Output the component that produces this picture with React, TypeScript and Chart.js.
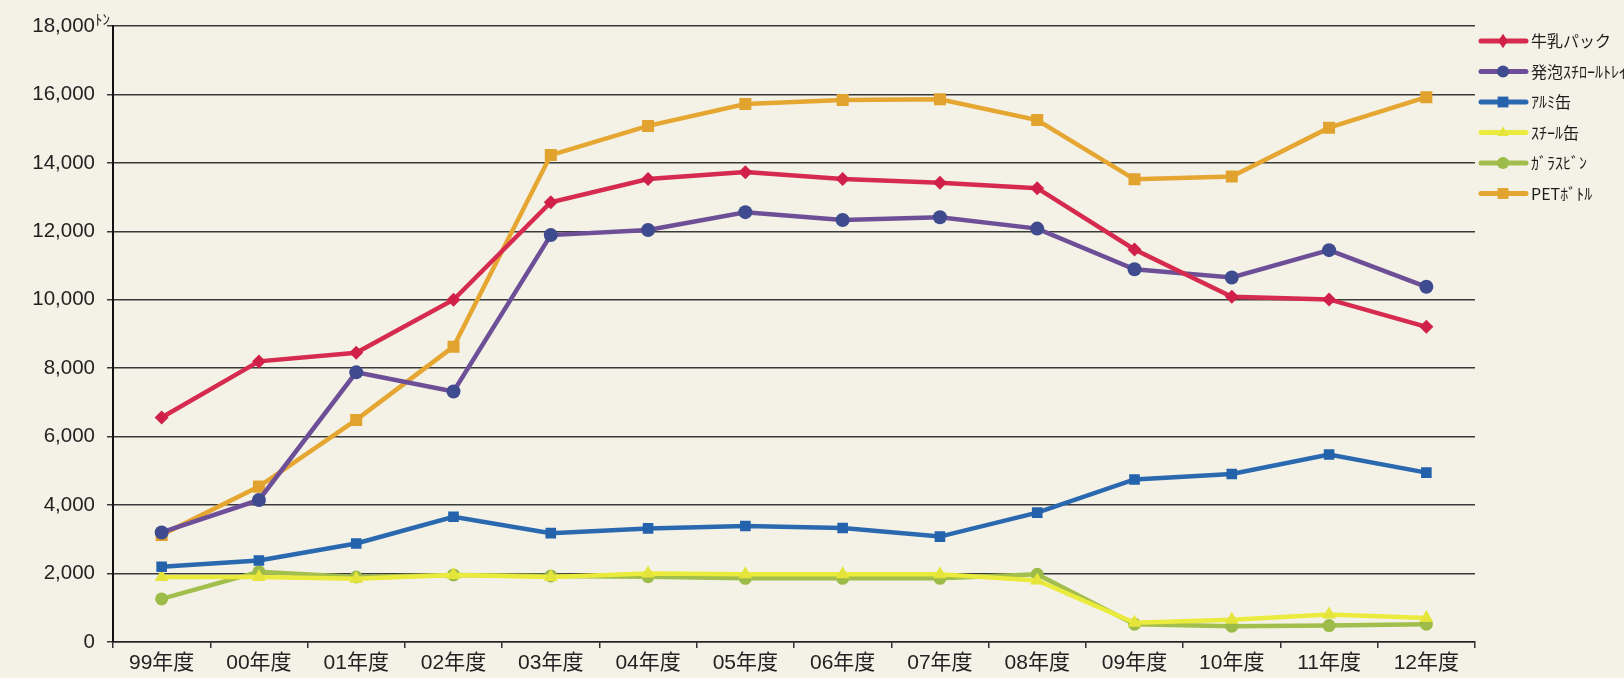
import { useEffect, useRef } from 'react';
import { Chart, registerables } from 'chart.js';

Chart.register(...registerables);

const categories = ['99年度', '00年度', '01年度', '02年度', '03年度', '04年度', '05年度', '06年度', '07年度', '08年度', '09年度', '10年度', '11年度', '12年度'];
const yTicks = [0, 2000, 4000, 6000, 8000, 10000, 12000, 14000, 16000, 18000];
const unitLabel = 'ﾄﾝ';

const seriesNames = ['牛乳パック', '発泡ｽﾁﾛｰﾙﾄﾚｲ', 'ｱﾙﾐ缶', 'ｽﾁｰﾙ缶', 'ｶﾞﾗｽﾋﾞﾝ', 'PETﾎﾞﾄﾙ'];
const milkCarton = [6560, 8200, 8450, 10000, 12850, 13530, 13730, 13530, 13420, 13260, 11470, 10090, 10010, 9210];
const foamTray = [3200, 4150, 7880, 7320, 11890, 12040, 12560, 12330, 12410, 12080, 10890, 10650, 11450, 10380];
const aluminumCan = [2200, 2380, 2880, 3660, 3180, 3320, 3390, 3330, 3080, 3780, 4750, 4910, 5480, 4950];
const steelCan = [1900, 1900, 1850, 1960, 1900, 2000, 1980, 1980, 1980, 1800, 560, 650, 800, 700];
const glassBottle = [1260, 2050, 1900, 1960, 1930, 1910, 1860, 1860, 1860, 1980, 520, 460, 480, 520];
const petBottle = [3130, 4540, 6490, 8630, 14230, 15080, 15720, 15840, 15860, 15250, 13520, 13600, 15030, 15920];

const lineColors = ['#d62a4e', '#6d4f98', '#2a69b0', '#ebeb3e', '#a2be4c', '#e5a632'];
const markerColors = ['#d0204a', '#3f4b8f', '#2462ab', '#e4e43a', '#9cbb48', '#e2a22e'];
const markerStyles = ['rectRot', 'circle', 'rect', 'triangle', 'circle', 'rect'];
const markerRadii = [7, 7, 7.5, 8, 6.5, 8.5];

const FONT_LATIN = "'Liberation Sans', 'Noto Sans CJK JP', sans-serif";

function drawMarker(ctx: CanvasRenderingContext2D, style: string, x: number, y: number, r: number) {
  ctx.beginPath();
  if (style === 'circle') {
    ctx.arc(x, y, r, 0, Math.PI * 2);
  } else if (style === 'rect') {
    const s = r * 0.9;
    ctx.rect(x - s, y - s, s * 2, s * 2);
  } else if (style === 'rectRot') {
    ctx.moveTo(x, y - r * 1.2);
    ctx.lineTo(x + r * 0.8, y);
    ctx.lineTo(x, y + r * 1.2);
    ctx.lineTo(x - r * 0.8, y);
    ctx.closePath();
  } else if (style === 'triangle') {
    ctx.moveTo(x, y - r);
    ctx.lineTo(x + r * 0.9, y + r * 0.6);
    ctx.lineTo(x - r * 0.9, y + r * 0.6);
    ctx.closePath();
  }
  ctx.fill();
}

const decorPlugin = {
  id: 'decor',
  beforeDraw(chart: any) {
    const { ctx, width, height } = chart;
    ctx.save();
    ctx.fillStyle = '#f4f2e6';
    ctx.fillRect(0, 0, width, height);
    ctx.restore();
  },
  afterDraw(chart: any) {
    const { ctx, chartArea } = chart;
    ctx.save();
    // unit label
    ctx.fillStyle = '#222';
    ctx.font = "15px 'Noto Sans CJK JP', sans-serif";
    ctx.textBaseline = 'middle';
    ctx.textAlign = 'left';
    ctx.fillText(unitLabel, chartArea.left - 18, chartArea.top - 7);
    // legend
    const x0 = chartArea.right + 4;
    chart.data.datasets.forEach((ds: any, i: number) => {
      const y = 41 + i * 30.5;
      ctx.strokeStyle = lineColors[i];
      ctx.lineWidth = 5;
      ctx.lineCap = 'round';
      ctx.beginPath();
      ctx.moveTo(x0 + 2, y);
      ctx.lineTo(x0 + 47, y);
      ctx.stroke();
      ctx.fillStyle = markerColors[i];
      drawMarker(ctx, markerStyles[i], x0 + 24, y, 6);
      ctx.fillStyle = '#1e1e1e';
      ctx.font = "16px 'Noto Sans CJK JP', sans-serif";
      ctx.textBaseline = 'middle';
      ctx.fillText(ds.label, x0 + 52, y);
    });
    ctx.restore();
  },
};

export default function App() {
  const canvasRef = useRef<HTMLCanvasElement | null>(null);

  useEffect(() => {
    document.body.style.margin = '0';
    document.body.style.overflow = 'hidden';
    const canvas = canvasRef.current;
    if (!canvas) return;
    const seriesValues = [milkCarton, foamTray, aluminumCan, steelCan, glassBottle, petBottle];
    const chart = new Chart(canvas, {
      type: 'line',
      data: {
        labels: categories,
        datasets: seriesNames.map((name, i) => ({
          label: name,
          data: seriesValues[i],
          borderColor: lineColors[i],
          backgroundColor: markerColors[i],
          borderWidth: 4.5,
          pointStyle: markerStyles[i] as any,
          pointRadius: markerRadii[i],
          pointBackgroundColor: markerColors[i],
          pointBorderColor: markerColors[i],
          pointBorderWidth: 0,
          tension: 0,
          fill: false,
        })),
      },
      options: {
        animation: false,
        responsive: false,
        layout: { padding: { top: 26, right: 149, left: 0, bottom: 0 } },
        plugins: {
          legend: { display: false },
          tooltip: { enabled: false },
        },
        scales: {
          x: {
            type: 'category',
            offset: true,
            grid: {
              offset: true,
              drawOnChartArea: false,
              drawTicks: true,
              tickLength: 6,
              color: '#333',
              lineWidth: 1.5,
            },
            border: { display: true, color: '#222', width: 1.5 },
            ticks: {
              color: '#222',
              font: { size: 21, family: FONT_LATIN },
              padding: 3,
              maxRotation: 0,
              autoSkip: false,
            },
            afterFit: (scale: any) => {
              scale.height = 36;
            },
          },
          y: {
            min: 0,
            max: 18000,
            afterBuildTicks: (scale: any) => {
              scale.ticks = yTicks.map((v) => ({ value: v }));
            },
            grid: {
              color: '#3a3a3a',
              lineWidth: 1.5,
              drawTicks: true,
              tickLength: 6,
            },
            border: { display: true, color: '#111', width: 2 },
            ticks: {
              color: '#222',
              font: { size: 20.5, family: FONT_LATIN },
              padding: 12,
              callback: (v: any) => Number(v).toLocaleString('en-US'),
            },
            afterFit: (scale: any) => {
              scale.width = 113;
            },
          },
        },
      },
      plugins: [decorPlugin],
    });
    return () => chart.destroy();
  }, []);

  return (
    <div style={{ width: 1624, height: 678, position: 'relative' }}>
      <canvas ref={canvasRef} width={1624} height={678} />
    </div>
  );
}
